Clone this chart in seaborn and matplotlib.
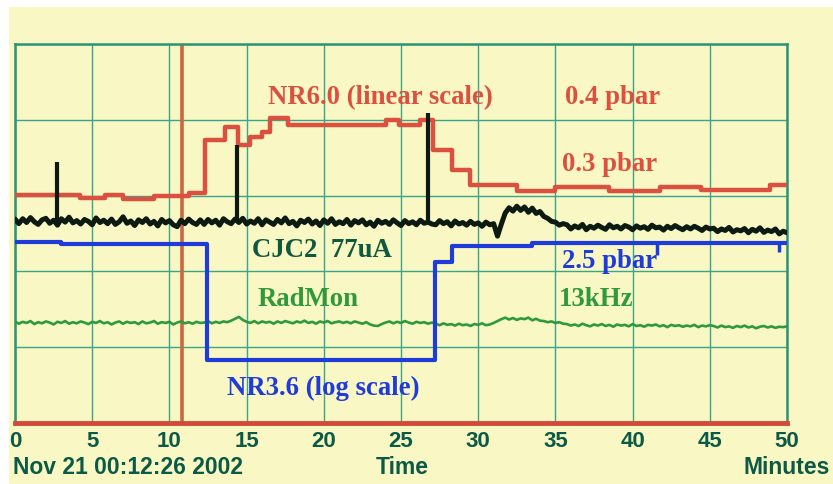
import numpy as np
import pandas as pd
import matplotlib
matplotlib.use("Agg")
import matplotlib.pyplot as plt
from matplotlib.patches import Rectangle
import seaborn as sns

# ---- data -------------------------------------------------------------
minute_ticks = [0, 5, 10, 15, 20, 25, 30, 35, 40, 45, 50]
minute_labels = ["0", "5", "10", "15", "20", "25", "30", "35", "40", "45", "50"]

# NR6.0 pressure (linear scale), stepped record
nr60_t = [0, 4.2, 5.8, 7.0, 9.0, 11.3, 12.3, 13.6, 14.44, 15.2, 16.0, 16.5, 17.7,
          24.0, 24.9, 26.2, 27.1, 28.3, 29.5, 32.5, 35.0, 38.5, 41.8, 44.4, 48.9, 50.0]
nr60_v = [60.2, 59.4, 60.2, 59.2, 59.9, 60.7, 74.7, 78.1, 73.4, 75.5, 76.8, 80.5, 78.6,
          79.9, 78.6, 79.9, 72.0, 66.8, 62.8, 61.2, 62.3, 61.2, 62.3, 61.5, 62.8, 62.8]

# NR3.6 pressure (log scale), stepped record
nr36_t = [0, 3.0, 12.43, 27.2, 28.3, 33.5, 50.0]
nr36_v = [47.8, 47.2, 16.6, 42.5, 46.7, 47.5, 47.5]
nr36_glitch_t = [41.6, 49.5]
nr36_glitch_low = [44.3, 45.1]
nr36_glitch_high = [47.5, 47.5]

# CJC2 current, sampled every 15 s over 50 minutes
cjc2_v = [
    53.8, 52.6, 53.9, 52.9, 54.2, 53.1, 52.4, 53.6, 54.0, 52.7,
    53.5, 52.2, 53.9, 53.0, 54.3, 52.8, 53.4, 52.5, 53.7, 53.2,
    52.3, 54.1, 52.9, 53.5, 52.6, 53.8, 52.4, 53.1, 54.4, 52.7,
    53.3, 52.1, 53.6, 52.9, 53.9, 52.5, 53.2, 52.0, 53.7, 52.8,
    53.4, 52.3, 51.8, 53.5, 52.6, 53.8, 52.9, 52.4, 53.6,
    52.4, 53.7, 52.8, 53.5, 52.2, 53.9, 53.1, 52.6, 53.8, 52.9,
    54.0, 52.5, 53.3, 52.7, 53.9, 52.3, 53.6, 53.0, 52.4, 53.7,
    52.8, 54.1, 52.6, 53.2, 52.0, 53.5, 52.9, 53.8, 52.5, 53.3,
    52.1, 53.6, 52.7, 53.9, 52.4, 53.1, 52.6, 53.7, 52.2, 53.4,
    52.8, 53.6, 52.3, 53.0, 51.9, 53.5, 52.7, 53.2, 52.4, 53.6,
    52.8, 52.1, 53.4, 52.6, 53.1, 52.3, 53.5, 52.7, 53.0, 52.5,
    52.3, 53.4, 52.6, 53.1, 52.0, 53.3, 52.5, 52.9, 52.2, 53.2,
    52.4, 52.8, 51.9, 53.0, 52.3, 52.6,
    49.3, 52.5, 55.4, 56.8, 55.9, 57.2, 56.1, 57.0, 55.6, 56.7,
    55.3, 55.8, 54.5, 54.0, 53.2, 53.0, 52.2, 52.6,
    52.3, 51.2, 52.0, 51.5, 52.4, 51.0, 51.9, 51.4, 52.2, 51.6,
    51.1, 52.3, 51.5, 51.9, 51.2, 52.1, 51.7, 51.0, 52.0, 51.4,
    51.8, 51.1, 52.2, 51.5, 51.7, 50.9, 51.9, 51.3, 52.1, 51.5,
    51.0, 51.8, 51.2, 51.9, 51.4, 50.8, 51.7, 51.2,
    51.4, 50.5, 51.2, 50.8, 51.6, 50.4, 51.0, 50.7, 51.3, 50.2,
    51.1, 50.6, 51.5, 50.3, 50.9, 50.5, 51.2, 49.9, 50.6, 50.2,
]
cjc2_spike_t = [2.72, 14.4, 26.75]
cjc2_spike_base = [53.2, 53.0, 52.8]
cjc2_spike_top = [68.9, 73.4, 81.8]

# RadMon rate, sampled every 15 s over 50 minutes
radmon_v = [
    26.8, 26.2, 26.7, 26.4, 26.9, 26.1, 26.6, 26.3, 26.8, 26.5,
    26.0, 26.7, 26.4, 26.9, 26.2, 26.6, 26.3, 26.8, 26.5, 26.1,
    26.7, 26.4, 26.9, 26.3, 26.6, 26.0, 26.5, 26.8, 26.2, 26.7,
    26.4, 26.6, 26.1, 26.8, 26.3, 26.5, 26.9, 26.2, 26.6, 26.4,
    26.7, 26.0, 26.5, 26.8, 26.3, 26.6, 26.2, 26.7, 26.4,
    26.5, 26.9, 26.3, 26.7, 26.4, 26.8, 26.6, 27.0, 27.5, 28.0,
    27.2, 26.7, 26.4, 26.9, 26.3, 26.8, 26.5, 26.7, 26.2, 26.8,
    26.4, 26.9, 26.6, 26.3, 26.8, 26.5, 27.0, 26.4, 26.7, 26.2,
    26.8, 26.5, 26.9, 26.3, 26.6, 26.8, 26.4, 26.7, 26.3, 26.8,
    26.5, 26.2, 26.6, 26.0, 25.7, 25.6, 26.1, 26.5, 26.8, 26.3,
    26.7, 26.4, 26.9, 26.5, 26.2, 26.7, 26.4, 26.6, 26.2, 26.5,
    26.2, 25.8, 26.3, 25.9, 26.1, 25.7, 26.2, 25.8, 26.0, 25.6,
    26.1, 25.9, 26.3, 25.8, 26.0, 26.4,
    26.9, 27.4, 27.8, 27.3, 27.7, 27.2, 27.6, 27.4, 27.8, 27.1,
    27.5, 27.0, 26.9, 26.6, 26.8, 26.4, 26.6, 26.2,
    26.1, 25.7, 26.0, 25.6, 26.2, 25.8, 25.5, 26.0, 25.7, 26.1,
    25.6, 25.9, 25.4, 26.0, 25.7, 25.9, 25.5, 26.1, 25.6, 25.8,
    25.4, 25.9, 25.7, 26.0, 25.5, 25.8, 25.3, 25.9, 25.6, 25.8,
    25.4, 25.7, 25.5, 25.9, 25.3, 25.7, 25.5, 25.8,
    25.6, 25.2, 25.7, 25.3, 25.5, 25.1, 25.6, 25.3, 25.7, 25.2,
    25.5, 25.0, 25.4, 25.6, 25.2, 25.5, 25.1, 25.4, 25.3, 25.5,
]

beam_marker_t = 10.8

# ---- style ------------------------------------------------------------
PAPER = "#f9f7c4"
GRID = "#3aa58a"
FRAME = "#2a9478"
AXIS_RED = "#d24a3a"
LABEL_INK = "#0b5a46"
RED = "#dc5040"
BLUE = "#1f3cd8"
BLACK = "#0c1a12"
GREEN = "#2e9a3c"
ORANGE = "#cc6642"

sns.set_style("white")
plt.rcParams["font.family"] = ["Liberation Sans", "DejaVu Sans"]

W, H = 833, 484
fig = plt.figure(figsize=(W / 100, H / 100), dpi=100, facecolor="white")
fig.add_artist(Rectangle((9 / W, 0), 1 - 9 / W, 1 - 7 / H, transform=fig.transFigure,
                         facecolor=PAPER, edgecolor="none", zorder=-5))
ax = fig.add_axes([15 / W, 61 / H, 772 / W, 379 / H])
ax.set_facecolor(PAPER)

# ---- traces -----------------------------------------------------------
cjc2 = pd.DataFrame({"minutes": np.linspace(0, 50, len(cjc2_v)), "value": cjc2_v})
radmon = pd.DataFrame({"minutes": np.linspace(0, 50, len(radmon_v)), "value": radmon_v})
nr60 = pd.DataFrame({"minutes": nr60_t, "value": nr60_v})
nr36 = pd.DataFrame({"minutes": nr36_t, "value": nr36_v})

sns.lineplot(data=radmon, x="minutes", y="value", ax=ax, color=GREEN, lw=1.9,
             estimator=None, legend=False, zorder=3)
sns.lineplot(data=nr36, x="minutes", y="value", ax=ax, color=BLUE, lw=3.0,
             drawstyle="steps-post", estimator=None, legend=False, zorder=4)
ax.vlines(nr36_glitch_t, nr36_glitch_low, nr36_glitch_high, color=BLUE, lw=2.5, zorder=4)
sns.lineplot(data=nr60, x="minutes", y="value", ax=ax, color=RED, lw=3.2,
             drawstyle="steps-post", estimator=None, legend=False, zorder=5)
sns.lineplot(data=cjc2, x="minutes", y="value", ax=ax, color=BLACK, lw=3.6,
             estimator=None, legend=False, zorder=6)
ax.vlines(cjc2_spike_t, cjc2_spike_base, cjc2_spike_top, color=BLACK, lw=3.0, zorder=6)
ax.axvline(beam_marker_t, color=ORANGE, lw=2.6, zorder=2.5)

# ---- axes -------------------------------------------------------------
ax.set_xlim(0, 50)
ax.set_ylim(0, 100)
ax.set_xticks(minute_ticks)
ax.set_xticklabels(minute_labels, fontweight="bold", fontsize=16, color=LABEL_INK)
ax.set_yticks(range(0, 101, 20))
ax.set_yticklabels([])
ax.set_yticks(range(10, 100, 20), minor=True)
ax.grid(True, which="major", color=GRID, lw=1.0, zorder=1)
ax.set_axisbelow(True)
ax.tick_params(axis="x", which="major", length=4, width=1, color=FRAME, pad=2,
               direction="out")
ax.tick_params(axis="y", which="major", length=0)
ax.tick_params(axis="y", which="minor", length=5, width=1, color=FRAME,
               direction="inout")
ax.set_xlabel("")
ax.set_ylabel("")

for side in ("top", "left", "right"):
    ax.spines[side].set_color(FRAME)
    ax.spines[side].set_linewidth(1.8)
ax.spines["bottom"].set_color(AXIS_RED)
ax.spines["bottom"].set_linewidth(3.5)

# ---- annotations ------------------------------------------------------
serif = dict(family=["Liberation Serif", "DejaVu Serif"], fontweight="bold",
             fontsize=19.3, va="center", ha="left", zorder=8)
ax.text(16.4, 85.8, "NR6.0 (linear scale)", color=RED, **serif)
ax.text(35.6, 85.8, "0.4 pbar", color=RED, **serif)
ax.text(35.4, 68.1, "0.3 pbar", color=RED, **serif)
ax.text(15.35, 45.6, "CJC2  77uA", color="#0f5a3c", **serif)
ax.text(35.4, 42.7, "2.5 pbar", color=BLUE, **serif)
ax.text(15.7, 32.5, "RadMon", color=GREEN, **serif)
ax.text(35.2, 32.5, "13kHz", color=GREEN, **serif)
ax.text(13.7, 9.0, "NR3.6 (log scale)", color=BLUE, **serif)

sans = dict(fontweight="bold", fontsize=16.5, color=LABEL_INK, va="center")
fig.text(13 / W, 1 - 467 / H, "Nov 21 00:12:26 2002", ha="left", **sans)
fig.text(402 / W, 1 - 467 / H, "Time", ha="center", **sans)
fig.text(830 / W, 1 - 467 / H, "Minutes", ha="right", **sans)

fig.savefig("out.png", dpi=100, facecolor="white")
